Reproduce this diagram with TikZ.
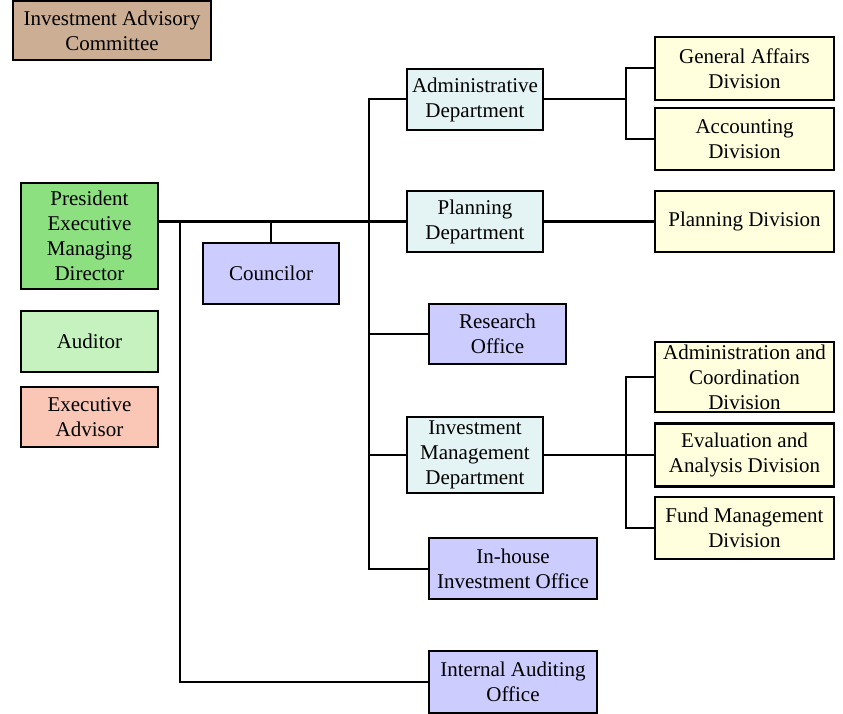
\documentclass[tikz,border=0pt]{standalone}
\usepackage{fontspec}
\setmainfont{Liberation Serif}
\begin{document}
\begin{tikzpicture}[x=1pt,y=-1pt,
  box/.style={draw=black,line width=2.3pt,inner sep=0pt,align=center,
    font=\fontsize{21}{25}\selectfont,text=black},
  conn/.style={draw=black,line width=2pt},
  tan/.style={box,fill=tanc},
  pres/.style={box,fill=presc},
  aud/.style={box,fill=audc},
  exa/.style={box,fill=exac},
  off/.style={box,fill=offc},
  dep/.style={box,fill=depc},
  div/.style={box,fill=divc}]
\definecolor{tanc}{RGB}{204,174,148}
\definecolor{presc}{RGB}{140,224,128}
\definecolor{audc}{RGB}{198,242,192}
\definecolor{exac}{RGB}{250,198,182}
\definecolor{offc}{RGB}{204,204,255}
\definecolor{depc}{RGB}{228,244,244}
\definecolor{divc}{RGB}{255,255,221}
\useasboundingbox (0,0) rectangle (843,714);

\coordinate (v1) at (180,0);
\coordinate (v2) at (369,0);
\coordinate (b1) at (626,0);

\node[tan,minimum width=198,minimum height=59] (iac) at (112,30.5) {Investment Advisory\\Committee};
\node[pres,minimum width=137,minimum height=106] (pres) at (89.5,236) {President\\Executive\\Managing\\Director};
\node[aud,minimum width=137,minimum height=61] (aud) at (89.5,341.5) {Auditor};
\node[exa,minimum width=137,minimum height=60] (exa) at (89.5,417) {Executive\\Advisor};
\node[off,minimum width=136,minimum height=61] (coun) at (271,273.5) {Councilor};
\node[dep,minimum width=136,minimum height=61] (adm) at (475,99.5) {Administrative\\Department};
\node[dep,minimum width=136,minimum height=61] (pln) at (475,221.5) {Planning\\Department};
\node[off,minimum width=137,minimum height=60] (res) at (497.5,334) {Research\\Office};
\node[dep,minimum width=136,minimum height=76] (imd) at (475,455) {Investment\\Management\\Department};
\node[off,minimum width=168,minimum height=61] (inh) at (513,568.5) {In-house\\Investment Office};
\node[off,minimum width=168,minimum height=62] (iao) at (513,682) {Internal Auditing\\Office};
\node[div,minimum width=179,minimum height=63] (gad) at (744.5,68.5) {General Affairs\\Division};
\node[div,minimum width=179,minimum height=62] (acc) at (744.5,139) {Accounting\\Division};
\node[div,minimum width=179,minimum height=61] (pdv) at (744.5,221.5) {Planning Division};
\node[div,minimum width=179,minimum height=70] (acd) at (744.5,377) {Administration and\\Coordination\\Division};
\node[div,minimum width=179,minimum height=63] (ead) at (744.5,455) {Evaluation and\\Analysis Division};
\node[div,minimum width=179,minimum height=62] (fmd) at (744.5,528) {Fund Management\\Division};

% main line
\draw[conn] (pres.east |- pln.west) -- (pln.west);
\draw[conn] (v1 |- pln.west) -- (v1 |- iao.west) -- (iao.west);
\draw[conn] (coun.north) -- (coun.north |- pln.west);
\draw[conn] (adm.west) -- (v2 |- adm.west) -- (v2 |- inh.west) -- (inh.west);
\draw[conn] (v2 |- res.west) -- (res.west);
\draw[conn] (v2 |- imd.west) -- (imd.west);
% admin brackets
\draw[conn] (adm.east) -- (b1 |- adm.east);
\draw[conn] (gad.west) -- (b1 |- gad.west) -- (b1 |- acc.west) -- (acc.west);
% planning
\draw[conn] (pln.east) -- (pdv.west);
% investment management
\draw[conn] (imd.east) -- (ead.west);
\draw[conn] (acd.west) -- (b1 |- acd.west) -- (b1 |- fmd.west) -- (fmd.west);
\end{tikzpicture}
\end{document}
